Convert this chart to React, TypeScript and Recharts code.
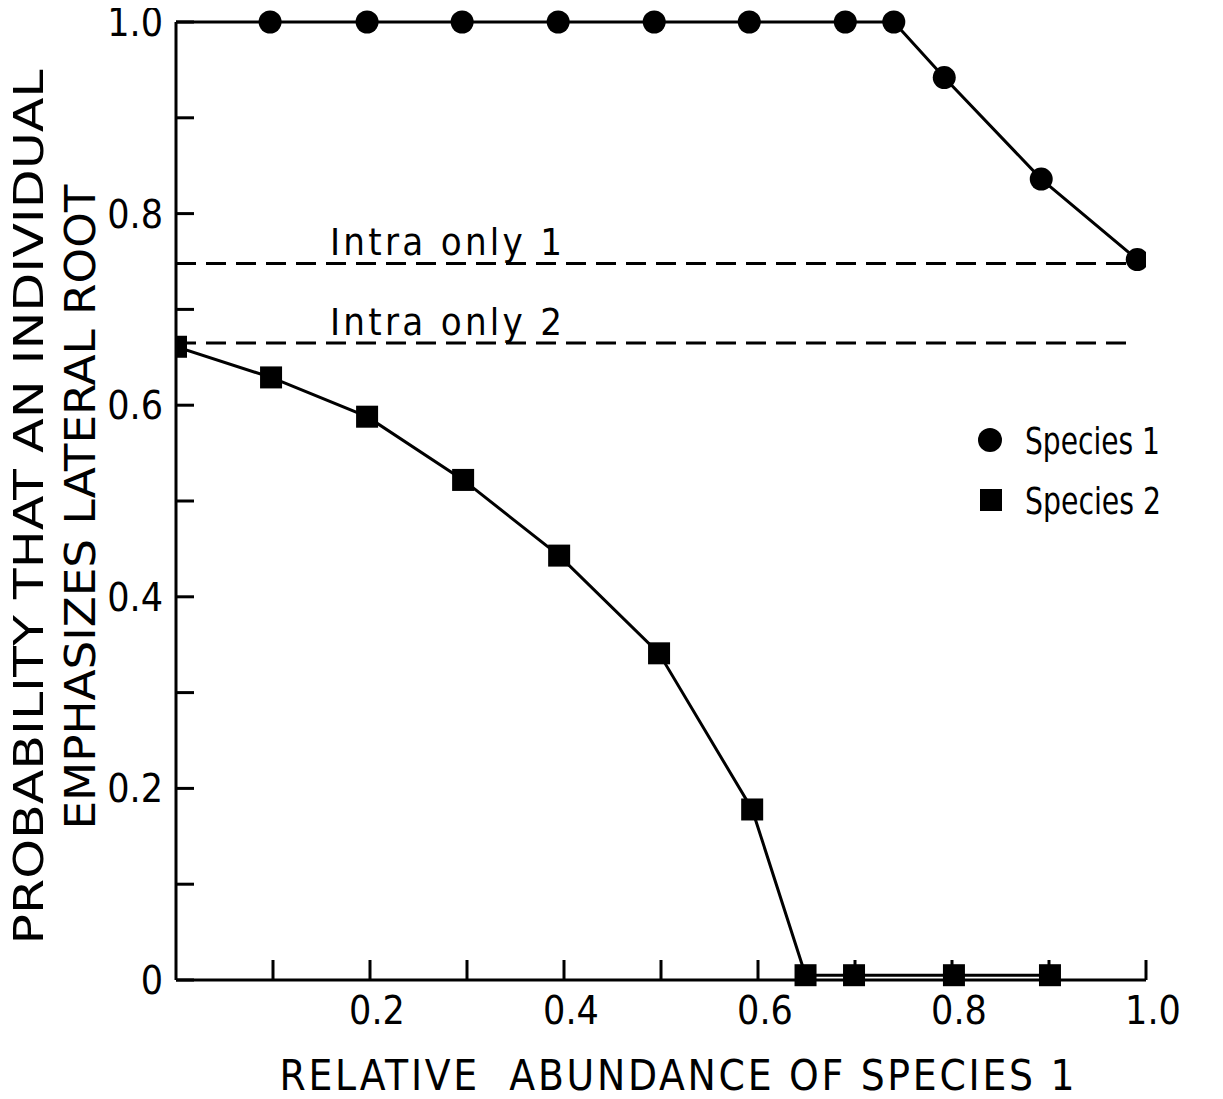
import React from 'react';
import { LineChart, Line, XAxis, YAxis, ReferenceLine, Legend } from 'recharts';

const FONT = "'Liberation Sans Narrow', 'DejaVu Sans Condensed', 'Liberation Sans', sans-serif";

// Species 1 (circles); first point at x=0 has no marker
const species1X = [0, 0.097, 0.197, 0.295, 0.394, 0.493, 0.591, 0.69, 0.74, 0.792, 0.892, 0.991];
const species1Y = [1.0, 1.0, 1.0, 1.0, 1.0, 1.0, 1.0, 1.0, 1.0, 0.942, 0.836, 0.752];

// Species 2 (squares)
const species2X = [0, 0.098, 0.197, 0.296, 0.395, 0.498, 0.594, 0.649, 0.699, 0.802, 0.901];
const species2Y = [0.661, 0.629, 0.588, 0.522, 0.443, 0.341, 0.178, 0.005, 0.005, 0.005, 0.005];

// Intra-only reference levels
const intraNames = ['Intra only 1', 'Intra only 2'];
const intraLevels = [0.748, 0.665];
const intraEndX = [0.991, 0.987];

const xTicks = [0.1, 0.2, 0.3, 0.4, 0.5, 0.6, 0.7, 0.8, 0.9, 1.0];
const xTickLabels = ['', '0.2', '', '0.4', '', '0.6', '', '0.8', '', '1.0'];
const yTicks = [0, 0.1, 0.2, 0.3, 0.4, 0.5, 0.6, 0.7, 0.8, 0.9, 1.0];
const yTickLabels = ['0', '', '0.2', '', '0.4', '', '0.6', '', '0.8', '', '1.0'];

const seriesNames = ['Species 1', 'Species 2'];

const data1 = species1X.map((x, i) => ({ x, y: species1Y[i] }));
const data2 = species2X.map((x, i) => ({ x, y: species2Y[i] }));

const XTick = (props: any) => {
  const { x, y, payload } = props;
  const label = xTickLabels[xTicks.indexOf(payload.value)];
  return (
    <g>
      <line x1={x} y1={y} x2={x} y2={y - 20} stroke="#000" strokeWidth={3} />
      {label ? (
        <text x={x + 7} y={y + 44} textAnchor="middle" fontSize={39} fontFamily={FONT} fill="#000">
          {label}
        </text>
      ) : null}
    </g>
  );
};

const YTick = (props: any) => {
  const { x, y, payload } = props;
  const label = yTickLabels[yTicks.indexOf(payload.value)];
  return (
    <g>
      <line x1={x} y1={y} x2={x + 18} y2={y} stroke="#000" strokeWidth={3} />
      {label ? (
        <text x={x - 13} y={y + 14} textAnchor="end" fontSize={39} fontFamily={FONT} fill="#000">
          {label}
        </text>
      ) : null}
    </g>
  );
};

const YLabel = (props: any) => {
  const vb = props.viewBox || { x: 0, y: 22, width: 176, height: 958 };
  const cy = vb.y + vb.height / 2 + 6;
  const x1 = 43;
  const x2 = 95;
  return (
    <g>
      <text
        x={x1}
        y={cy}
        transform={`rotate(-90 ${x1} ${cy})`}
        textAnchor="middle"
        fontSize={41}
        fontFamily={FONT}
        fill="#000"
        textLength={875}
        lengthAdjust="spacingAndGlyphs"
      >
        PROBABILITY THAT AN INDIVIDUAL
      </text>
      <text
        x={x2}
        y={cy}
        transform={`rotate(-90 ${x2} ${cy})`}
        textAnchor="middle"
        fontSize={43}
        fontFamily={FONT}
        fill="#000"
        textLength={645}
        lengthAdjust="spacingAndGlyphs"
      >
        EMPHASIZES LATERAL ROOT
      </text>
    </g>
  );
};

const XLabel = (props: any) => {
  const vb = props.viewBox || { x: 176, y: 980, width: 970, height: 119 };
  const cx = vb.x + vb.width / 2 + 16;
  return (
    <text
      x={cx}
      y={vb.y + 110}
      textAnchor="middle"
      fontSize={42}
      fontFamily={FONT}
      fill="#000"
      textLength={795}
      lengthAdjust="spacing"
      style={{ whiteSpace: 'pre' }}
    >
      {'RELATIVE  ABUNDANCE OF SPECIES 1'}
    </text>
  );
};

const makeIntraLabel = (text: string) => (props: any) => {
  const vb = props.viewBox || { x: 0, y: 0 };
  return (
    <text
      x={vb.x + 154}
      y={vb.y - 8}
      fontSize={38}
      fontFamily={FONT}
      fill="#000"
      textLength={232}
      lengthAdjust="spacing"
    >
      {text}
    </text>
  );
};

const CircleDot = (props: any) => {
  const { cx, cy, index } = props;
  if (index === 0) return <g key={`c${index}`} />;
  return <circle key={`c${index}`} cx={cx} cy={cy} r={11.5} fill="#000" />;
};

const SquareDot = (props: any) => {
  const { cx, cy, index } = props;
  return <rect key={`s${index}`} x={cx - 11} y={cy - 11} width={22} height={22} fill="#000" />;
};

const LegendContent = () => (
  <svg width={240} height={120} style={{ display: 'block' }}>
    <circle cx={22} cy={30} r={12} fill="#000" />
    <text x={57} y={44} fontSize={38} fontFamily={FONT} fill="#000" textLength={135} lengthAdjust="spacingAndGlyphs">
      {seriesNames[0]}
    </text>
    <rect x={12} y={79} width={22} height={22} fill="#000" />
    <text x={57} y={104} fontSize={38} fontFamily={FONT} fill="#000" textLength={136} lengthAdjust="spacingAndGlyphs">
      {seriesNames[1]}
    </text>
  </svg>
);

export default function App() {
  return (
    <div style={{ width: 1223, height: 1099, marginTop: -8, marginLeft: -8, background: '#fff' }}>
      <LineChart width={1223} height={1099} margin={{ top: 22, right: 77, bottom: 0, left: 0 }}>
        <XAxis
          type="number"
          dataKey="x"
          domain={[0, 1]}
          ticks={xTicks}
          interval={0}
          height={119}
          tickSize={0}
          tickMargin={0}
          tickLine={false}
          axisLine={{ stroke: '#000', strokeWidth: 3 }}
          tick={<XTick />}
          label={<XLabel />}
          allowDataOverflow
        />
        <YAxis
          type="number"
          domain={[0, 1]}
          ticks={yTicks}
          interval={0}
          width={176}
          tickSize={0}
          tickMargin={0}
          tickLine={false}
          axisLine={{ stroke: '#000', strokeWidth: 3 }}
          tick={<YTick />}
          label={<YLabel />}
        />
        {intraLevels.map((lvl, i) => (
          <ReferenceLine
            key={intraNames[i]}
            segment={[
              { x: 0, y: lvl },
              { x: intraEndX[i], y: lvl },
            ]}
            stroke="#000"
            strokeWidth={3}
            strokeDasharray="20 10"
            label={makeIntraLabel(intraNames[i])}
            ifOverflow="visible"
          />
        ))}
        <Line
          data={data1}
          dataKey="y"
          name={seriesNames[0]}
          type="linear"
          stroke="#000"
          strokeWidth={3}
          dot={CircleDot}
          activeDot={false}
          isAnimationActive={false}
        />
        <Line
          data={data2}
          dataKey="y"
          name={seriesNames[1]}
          type="linear"
          stroke="#000"
          strokeWidth={3}
          dot={SquareDot}
          activeDot={false}
          isAnimationActive={false}
        />
        <Legend
          layout="vertical"
          align="center"
          verticalAlign="middle"
          content={<LegendContent />}
          wrapperStyle={{ left: 968, top: 410, width: 240, height: 120 }}
        />
      </LineChart>
    </div>
  );
}
